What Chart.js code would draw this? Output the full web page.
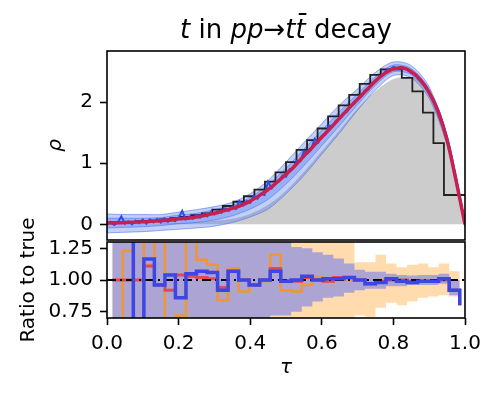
<!DOCTYPE html>
<html>
<head>
<meta charset="utf-8">
<script src="https://cdn.jsdelivr.net/npm/chart.js@4"></script>
<style>
  html, body { margin: 0; padding: 0; background: #fff; }
  #wrap { position: relative; width: 498px; height: 399px; }
  canvas { position: absolute; left: 0; }
  #densityChart { top: 0; }
  #ratioChart { top: 190px; }
</style>
</head>
<body>
<div id="wrap">
  <canvas id="densityChart" width="498" height="262"></canvas>
  <canvas id="ratioChart" width="498" height="209"></canvas>
</div>
<script>
// Mật độ rho theo tau (34 bin)
const nBins = 34;
const binStart = Array.from({length: nBins + 1}, (_, i) => i / nBins);
const binMid = Array.from({length: nBins}, (_, i) => (i + 0.5) / nBins);

const trueHist = [0.02, 0.03, 0.03, 0.04, 0.05, 0.06, 0.08, 0.10, 0.12, 0.15,
  0.18, 0.24, 0.30, 0.37, 0.46, 0.57, 0.70, 0.85, 1.02, 1.22,
  1.38, 1.57, 1.77, 1.95, 2.12, 2.30, 2.45, 2.54, 2.54, 2.40,
  2.18, 1.83, 1.33, 0.48];

const grayTau = [0, 0.05, 0.1, 0.15, 0.2, 0.25, 0.3, 0.35, 0.4, 0.45, 0.5,
  0.55, 0.6, 0.65, 0.7, 0.75, 0.8, 0.85, 0.9, 0.95, 0.975, 1.0];
const grayRho = [0, 0, 0, 0.01, 0.02, 0.04, 0.06, 0.09, 0.17, 0.32, 0.55,
  0.86, 1.2, 1.55, 1.9, 2.18, 2.38, 2.42, 2.18, 1.45, 0.75, 0];

const fitTau = Array.from({length: 41}, (_, i) => i / 40);
const fitRho = [0.02, 0.025, 0.03, 0.035, 0.04, 0.05, 0.06, 0.07, 0.09, 0.10,
  0.12, 0.15, 0.18, 0.22, 0.26, 0.31, 0.38, 0.47, 0.57, 0.69,
  0.82, 0.96, 1.12, 1.27, 1.43, 1.58, 1.74, 1.90, 2.05, 2.20,
  2.35, 2.47, 2.55, 2.56, 2.50, 2.37, 2.16, 1.85, 1.38, 0.72, 0.0];

const sampleTau = Array.from({length: 101}, (_, i) => i / 100);
const sampleRho = [0.00, 0.04, -0.01, 0.03, 0.13, 0.01, 0.05, 0.00, 0.06, 0.02,
  0.08, 0.01, 0.08, 0.03, 0.09, 0.03, 0.10, 0.04, 0.09, 0.05,
  0.11, 0.22, 0.08, 0.13, 0.09, 0.15, 0.11, 0.17, 0.13, 0.20,
  0.16, 0.22, 0.19, 0.26, 0.22, 0.29, 0.25, 0.38, 0.31, 0.38,
  0.35, 0.47, 0.42, 0.50, 0.48, 0.70, 0.59, 0.66, 0.70, 0.80,
  0.78, 0.90, 0.92, 1.04, 1.03, 1.20, 1.16, 1.22, 1.40, 1.34,
  1.45, 1.47, 1.62, 1.60, 1.70, 1.73, 1.82, 1.84, 1.94, 1.97,
  2.06, 2.09, 2.19, 2.21, 2.31, 2.34, 2.42, 2.44, 2.52, 2.53,
  2.58, 2.56, 2.58, 2.55, 2.53, 2.48, 2.46, 2.38, 2.33, 2.24,
  2.15, 2.07, 1.94, 1.80, 1.62, 1.42, 1.18, 0.90, 0.62, 0.30,
  0.02];

const bandTau = grayTau;
const outerHi = [0.17, 0.16, 0.16, 0.16, 0.20, 0.24, 0.29, 0.36, 0.50, 0.72, 1.02,
  1.34, 1.65, 1.96, 2.22, 2.49, 2.66, 2.60, 2.25, 1.46, 0.78, 0.05];
const outerLo = [-0.14, -0.13, -0.12, -0.10, -0.08, -0.06, -0.03, 0.03, 0.12, 0.25, 0.50,
  0.80, 1.15, 1.50, 1.87, 2.20, 2.44, 2.40, 2.06, 1.30, 0.66, -0.05];
const innerHi = [0.10, 0.10, 0.10, 0.11, 0.15, 0.18, 0.24, 0.31, 0.44, 0.65, 0.92,
  1.23, 1.54, 1.85, 2.14, 2.42, 2.61, 2.55, 2.21, 1.42, 0.75, 0.03];
const innerLo = [-0.06, -0.05, -0.04, -0.02, 0.01, 0.03, 0.07, 0.14, 0.25, 0.41, 0.66,
  0.96, 1.29, 1.62, 1.96, 2.28, 2.50, 2.45, 2.11, 1.34, 0.69, -0.03];

// Tỉ lệ so với giá trị thật
const ratioBlue = [1.6, 1.5, 0.4, 1.165, 0.96, 1.04, 0.86, 1.05, 1.07, 1.06,
  0.92, 1.07, 1.0, 0.96, 1.0, 1.07, 0.99, 1.0, 1.03, 1.0,
  1.01, 1.01, 1.02, 1.0, 0.97, 0.98, 1.01, 0.99, 0.98, 0.99,
  0.99, 1.01, 0.92, 0.80];
const ratioRed = [1.0, 1.0, 1.0, 1.11, 0.96, 0.92, 1.04, 1.03, 1.02, 1.01,
  0.94, 1.07, 1.0, 0.96, 1.0, 1.09, 0.99, 0.99, 1.02, 1.0,
  0.99, 1.02, 1.02, 1.0, 0.97, 0.99, 1.0, 1.0, 0.99, 0.99,
  0.99, 1.0, 0.92, 0.80];
const ratioOrange = [0.5, 1.23, 1.5, 1.12, 1.5, 0.5, 0.72, 1.5, 1.16, 1.12,
  0.84, 1.09, 0.91, 0.96, 0.99, 1.2, 0.92, 0.91, 0.96, 1.02,
  0.99, 1.01, 1.0, 1.0, 0.97, 1.0, 1.0, 0.99, 0.99, 1.0,
  0.99, 1.0, 0.92, 0.80];
const blueBandHi = [1.5, 1.5, 1.5, 1.5, 1.5, 1.5, 1.5, 1.5, 1.5, 1.5,
  1.5, 1.5, 1.5, 1.5, 1.5, 1.5, 1.5, 1.26, 1.25, 1.22,
  1.2, 1.17, 1.13, 1.08, 1.065, 1.065, 1.05, 1.04, 1.035, 1.04,
  1.04, 1.05, 1.0, 0.86];
const blueBandLo = [0.5, 0.5, 0.5, 0.5, 0.5, 0.5, 0.5, 0.5, 0.5, 0.5,
  0.5, 0.5, 0.5, 0.5, 0.5, 0.72, 0.72, 0.75, 0.79, 0.83,
  0.86, 0.87, 0.9, 0.92, 0.93, 0.93, 0.95, 0.95, 0.96, 0.96,
  0.96, 0.97, 0.88, 0.74];
const orangeBandHi = [1.5, 1.5, 1.5, 1.5, 1.5, 1.5, 1.5, 1.5, 1.5, 1.5,
  1.5, 1.5, 1.5, 1.5, 1.5, 1.5, 1.5, 1.5, 1.5, 1.5,
  1.5, 1.5, 1.5, 1.14, 1.14, 1.2, 1.13, 1.1, 1.12, 1.13,
  1.1, 1.13, 1.07, 0.92];
const orangeBandLo = [0.5, 0.5, 0.5, 0.5, 0.5, 0.5, 0.5, 0.5, 0.5, 0.5,
  0.5, 0.5, 0.5, 0.5, 0.5, 0.5, 0.5, 0.5, 0.5, 0.5,
  0.5, 0.5, 0.5, 0.72, 0.71, 0.78, 0.82, 0.8, 0.83, 0.86,
  0.87, 0.88, 0.87, 0.6];

const rhoTicks = [0, 1, 2];
const ratioTicks = [0.75, 1.0, 1.25];

const pts = (xs, ys) => xs.map((x, i) => ({x: x, y: ys[i]}));
const FONT = 'DejaVu Sans';
Chart.defaults.font.family = FONT;

const frame = {
  id: 'frame',
  afterDatasetsDraw(chart) {
    const {ctx, chartArea: a} = chart;
    ctx.save();
    ctx.strokeStyle = '#000';
    ctx.lineWidth = 1.6;
    ctx.strokeRect(a.left, a.top, a.right - a.left, a.bottom - a.top);
    ctx.restore();
  }
};

const titleBits = [['t', 'italic'], [' in ', 'normal'], ['pp', 'italic'],
  ['\u2192', 'normal'], ['tt\u0304', 'italic'], [' decay', 'normal']];
const mixedTitle = {
  id: 'mixedTitle',
  afterDraw(chart) {
    const {ctx, chartArea: a} = chart;
    ctx.save();
    ctx.fillStyle = '#000';
    ctx.textBaseline = 'alphabetic';
    let w = 0;
    titleBits.forEach(([s, st]) => {
      ctx.font = st + ' 26px "' + FONT + '"';
      w += ctx.measureText(s).width;
    });
    let x = (a.left + a.right) / 2 - w / 2;
    titleBits.forEach(([s, st]) => {
      ctx.font = st + ' 26px "' + FONT + '"';
      ctx.fillText(s, x, 38);
      x += ctx.measureText(s).width;
    });
    ctx.restore();
  }
};

const tickGrid = {drawOnChartArea: false, tickLength: 7, tickWidth: 1.6, tickColor: '#000'};
const tickFont = {family: FONT, size: 20};
const line = (data, color, width, extra) => Object.assign({
  data: data, borderColor: color, borderWidth: width, pointRadius: 0, fill: false
}, extra || {});

const bandEdge = 'rgba(70,110,235,0.55)';
const bandFill = 'rgba(70,110,235,0.33)';

new Chart(document.getElementById('densityChart'), {
  type: 'line',
  data: {
    datasets: [
      line(pts(fitTau, fitRho), '#c81e50', 3.5, {cubicInterpolationMode: 'monotone', order: 0}),
      line(pts(sampleTau, sampleRho), 'rgb(35,80,240)', 2, {order: 1}),
      line(pts(binStart, trueHist.concat([trueHist[nBins - 1]])), '#222', 1.8, {stepped: 'after', order: 2}),
      line(pts(bandTau, innerHi), bandEdge, 1, {fill: 4, backgroundColor: bandFill, tension: 0.3, order: 3}),
      line(pts(bandTau, innerLo), bandEdge, 1, {tension: 0.3, order: 3}),
      line(pts(bandTau, outerHi), bandEdge, 1, {fill: 6, backgroundColor: bandFill, tension: 0.3, order: 4}),
      line(pts(bandTau, outerLo), bandEdge, 1, {tension: 0.3, order: 4}),
      line(pts(grayTau, grayRho), 'rgba(0,0,0,0)', 0, {fill: 'origin', backgroundColor: '#cccccc', cubicInterpolationMode: 'monotone', order: 5})
    ]
  },
  options: {
    responsive: false,
    animation: false,
    layout: {padding: {top: 51, right: 33, bottom: 22, left: 0}},
    plugins: {legend: {display: false}, tooltip: {enabled: false}},
    scales: {
      x: {type: 'linear', min: 0, max: 1, display: false},
      y: {
        min: -0.257, max: 2.84,
        afterFit: s => { s.width = 107; },
        afterBuildTicks: s => { s.ticks = rhoTicks.map(v => ({value: v})); },
        grid: tickGrid,
        border: {display: false},
        ticks: {color: '#000', padding: 7, font: tickFont},
        title: {display: true, text: 'ρ', color: '#000',
          font: {family: FONT, size: 20, style: 'italic'}, padding: {top: 44, bottom: 0}}
      }
    }
  },
  plugins: [frame, mixedTitle]
});

new Chart(document.getElementById('ratioChart'), {
  type: 'line',
  data: {
    datasets: [
      line(pts(binMid, ratioBlue), 'rgb(60,70,230)', 3.5, {stepped: 'before', order: 0}),
      line([{x: 0, y: 1}, {x: 1, y: 1}], '#000', 2, {borderDash: [9, 4, 2, 4], order: 1}),
      line(pts(binMid, ratioRed), 'rgb(228,72,82)', 3, {stepped: 'before', order: 2}),
      line(pts(binMid, ratioOrange), 'rgb(240,150,50)', 2.5, {stepped: 'before', order: 3}),
      line(pts(binMid, blueBandHi), 'rgba(0,0,0,0)', 0, {stepped: 'before', fill: 5, backgroundColor: 'rgba(90,110,250,0.5)', order: 4}),
      line(pts(binMid, blueBandLo), 'rgba(0,0,0,0)', 0, {stepped: 'before', order: 4}),
      line(pts(binMid, orangeBandHi), 'rgba(0,0,0,0)', 0, {stepped: 'before', fill: 7, backgroundColor: 'rgba(255,160,40,0.38)', order: 6}),
      line(pts(binMid, orangeBandLo), 'rgba(0,0,0,0)', 0, {stepped: 'before', order: 6})
    ]
  },
  options: {
    responsive: false,
    animation: false,
    layout: {padding: {top: 52, right: 33, bottom: 0, left: 0}},
    plugins: {legend: {display: false}, tooltip: {enabled: false}},
    scales: {
      x: {
        type: 'linear', min: 0, max: 1,
        afterFit: s => { s.height = 81; },
        grid: tickGrid,
        border: {display: false},
        ticks: {stepSize: 0.2, color: '#000', padding: 7, font: tickFont, maxRotation: 0,
          callback: v => Number(v).toFixed(1)},
        title: {display: true, text: 'τ', color: '#000',
          font: {family: FONT, size: 20, style: 'italic'}, padding: {top: 0, bottom: 19}}
      },
      y: {
        min: 0.7, max: 1.3,
        afterFit: s => { s.width = 107; },
        afterBuildTicks: s => { s.ticks = ratioTicks.map(v => ({value: v})); },
        grid: tickGrid,
        border: {display: false},
        ticks: {color: '#000', padding: 7, font: tickFont, callback: v => Number(v).toFixed(2)},
        title: {display: true, text: 'Ratio to true', color: '#000',
          font: {family: FONT, size: 20}, padding: {top: 17, bottom: 0}}
      }
    }
  },
  plugins: [frame]
});
</script>
</body>
</html>
